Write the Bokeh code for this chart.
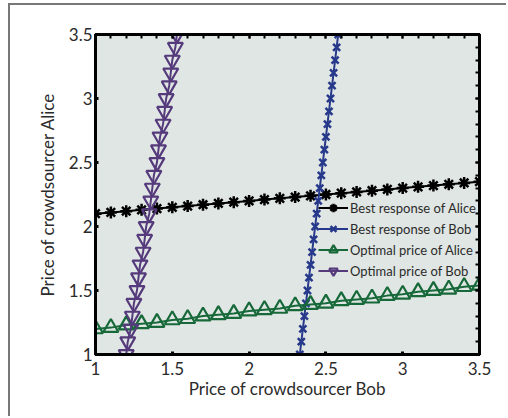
from bokeh.plotting import figure
from bokeh.models import LinearAxis, FixedTicker, Legend, LegendItem, Range1d, CustomJSTickFormatter
from bokeh.embed import file_html
from bokeh.resources import INLINE

# ---- data ----
price_grid = [1.0, 1.1, 1.2, 1.3, 1.4, 1.5, 1.6, 1.7, 1.8, 1.9, 2.0, 2.1, 2.2,
              2.3, 2.4, 2.5, 2.6, 2.7, 2.8, 2.9, 3.0, 3.1, 3.2, 3.3, 3.4, 3.5]
best_resp_alice = [2.10, 2.11, 2.12, 2.13, 2.14, 2.15, 2.16, 2.17, 2.18, 2.19, 2.20,
                   2.21, 2.22, 2.23, 2.24, 2.25, 2.26, 2.27, 2.28, 2.29, 2.30, 2.31,
                   2.32, 2.33, 2.34, 2.35]
best_resp_bob = [2.33, 2.34, 2.35, 2.36, 2.37, 2.38, 2.39, 2.40, 2.41, 2.42, 2.43,
                 2.44, 2.45, 2.46, 2.47, 2.48, 2.49, 2.50, 2.51, 2.52, 2.53, 2.54,
                 2.55, 2.56, 2.57, 2.58]
opt_price_alice = [1.20, 1.21, 1.23, 1.24, 1.25, 1.27, 1.28, 1.30, 1.31, 1.32, 1.34,
                   1.35, 1.36, 1.38, 1.39, 1.40, 1.42, 1.43, 1.44, 1.46, 1.47, 1.49,
                   1.50, 1.51, 1.53, 1.54]
opt_price_bob = [1.20, 1.21, 1.23, 1.24, 1.25, 1.27, 1.28, 1.29, 1.31, 1.32, 1.33,
                 1.35, 1.36, 1.37, 1.38, 1.40, 1.41, 1.42, 1.44, 1.45, 1.46, 1.48,
                 1.49, 1.50, 1.52, 1.53]
series_names = ["Best response of Alice", "Best response of Bob",
                "Optimal price of Alice", "Optimal price of Bob"]
x_ticks = [1, 1.5, 2, 2.5, 3, 3.5]
x_tick_labels = ["1", "1.5", "2", "2.5", "3", "3.5"]
y_ticks = [1, 1.5, 2, 2.5, 3, 3.5]
y_tick_labels = ["1", "1.5", "2", "2.5", "3", "3.5"]
minor_ticks = price_grid

FONT = "Lato"
TXT = "#2b2b2b"

p = figure(frame_width=384, frame_height=320,
           min_border_left=85, min_border_right=27,
           min_border_top=29, min_border_bottom=62,
           x_range=Range1d(1, 3.5), y_range=Range1d(1, 3.5),
           output_backend="svg", toolbar_location=None,
           background_fill_color="#e0e6e3", border_fill_color="white")
p.styles = {"margin-left": "8px", "margin-top": "3px",
            "border-top": "2px solid #777777", "border-left": "2px solid #777777"}
p.grid.visible = False
p.outline_line_color = "black"
p.outline_line_width = 3

# main axes
for ax, ticks, labels in ((p.xaxis[0], x_ticks, x_tick_labels),
                          (p.yaxis[0], y_ticks, y_tick_labels)):
    ax.ticker = FixedTicker(ticks=ticks, minor_ticks=[])
    ax.major_label_overrides = {t: l for t, l in zip(ticks, labels)}
    ax.major_tick_in = 3
    ax.major_tick_out = 0
    ax.major_tick_line_width = 3
    ax.major_tick_line_color = "black"
    ax.minor_tick_line_color = None
    ax.axis_line_color = "black"
    ax.axis_line_width = 3
    ax.major_label_text_font = FONT
    ax.major_label_text_font_size = "17px"
    ax.major_label_text_color = TXT
    ax.axis_label_text_font = FONT
    ax.axis_label_text_font_size = "17px"
    ax.axis_label_text_font_style = "normal"
    ax.axis_label_text_color = TXT

p.xaxis[0].axis_label = "Price of crowdsourcer Bob"
p.yaxis[0].axis_label = "Price of crowdsourcer Alice"
p.xaxis[0].major_label_standoff = 7
p.xaxis[0].axis_label_standoff = 0
p.yaxis[0].major_label_standoff = 3
p.yaxis[0].axis_label_standoff = 8

# mirrored axes (top / right) with inward ticks, no labels
for loc, ticks in (("above", x_ticks), ("right", y_ticks)):
    ax = LinearAxis(ticker=FixedTicker(ticks=ticks, minor_ticks=minor_ticks),
                    formatter=CustomJSTickFormatter(code="return '';"))
    ax.major_label_standoff = 0
    ax.major_tick_in = 4
    ax.major_tick_out = 0
    ax.minor_tick_in = 4
    ax.minor_tick_out = 0
    ax.major_tick_line_width = 2
    ax.minor_tick_line_width = 2
    ax.major_tick_line_color = "black"
    ax.minor_tick_line_color = "black"
    ax.axis_line_color = "black"
    ax.axis_line_width = 3
    p.add_layout(ax, loc)

# series
r1l = p.line(price_grid, best_resp_alice, line_color="black", line_width=2)
r1m = p.scatter(price_grid, best_resp_alice, marker="asterisk", size=12,
                line_color="black", line_width=2.5)
r2l = p.line(best_resp_bob, price_grid, line_color="#26398a", line_width=2)
r2m = p.scatter(best_resp_bob, price_grid, marker="x", size=10,
                line_color="#26398a", line_width=2.5)
r3l = p.line(price_grid, opt_price_alice, line_color="#17693a", line_width=2)
r3m = p.scatter(price_grid, opt_price_alice, marker="triangle", size=15,
                line_color="#17693a", fill_color=None, line_width=2.2)
r4l = p.line(opt_price_bob, price_grid, line_color="#553a7c", line_width=2)
r4m = p.scatter(opt_price_bob, price_grid, marker="inverted_triangle", size=15,
                line_color="#553a7c", fill_color=None, line_width=2.2)

legend = Legend(items=[LegendItem(label=series_names[0], renderers=[r1l, r1m]),
                       LegendItem(label=series_names[1], renderers=[r2l, r2m]),
                       LegendItem(label=series_names[2], renderers=[r3l, r3m]),
                       LegendItem(label=series_names[3], renderers=[r4l, r4m])],
                location=(223, 73), padding=0, margin=0, spacing=0,
                glyph_width=30, glyph_height=21, label_height=21,
                label_standoff=2, background_fill_alpha=0, border_line_alpha=0,
                label_text_font=FONT, label_text_font_size="13px",
                label_text_color=TXT)
p.add_layout(legend, "center")

open("out.html", "w").write(file_html(p, INLINE))
